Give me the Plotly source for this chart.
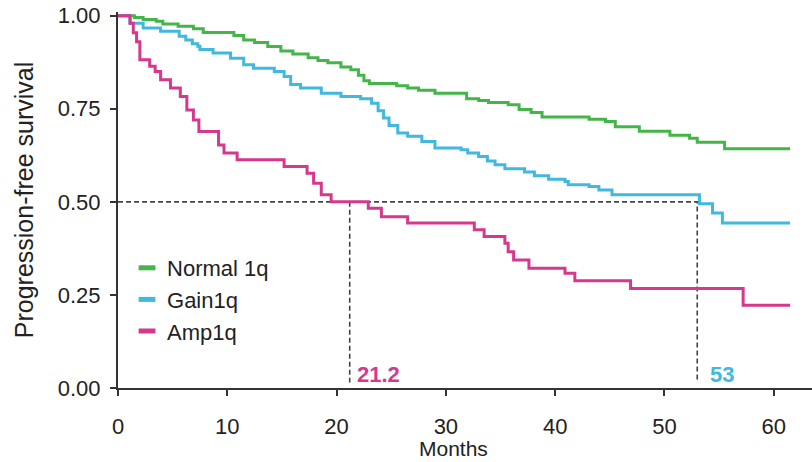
import plotly.graph_objects as go

# ---- data ----
normal_t = [0, 1.5, 2.3, 3.5, 4.1, 5.5, 6.9, 7.8, 10.6, 11.5, 12.5, 13.7, 14.9, 16.0, 17.4,
            18.3, 19.2, 20.4, 21.3, 22.0, 22.5, 23.0, 25.5, 26.5, 27.5, 29.0, 31.9, 33.0,
            33.9, 35.7, 36.7, 37.8, 38.8, 43.1, 44.6, 45.5, 47.7, 50.5, 52.3, 53.0, 55.5, 61.5]
normal_s = [1.0, 0.995, 0.99, 0.985, 0.978, 0.972, 0.965, 0.955, 0.947, 0.935, 0.928, 0.917,
            0.905, 0.897, 0.887, 0.88, 0.874, 0.862, 0.855, 0.84, 0.825, 0.818, 0.812, 0.806,
            0.80, 0.792, 0.777, 0.772, 0.767, 0.761, 0.748, 0.74, 0.728, 0.722, 0.716, 0.702,
            0.69, 0.679, 0.671, 0.66, 0.643, 0.643]

gain_t = [0, 1.1, 2.3, 3.9, 5.6, 6.2, 6.8, 7.3, 7.5, 8.7, 10.3, 11.5, 12.4, 14.3, 15.2, 15.8,
          16.7, 18.6, 20.4, 22.2, 23.2, 23.8, 24.3, 24.8, 25.6, 26.5, 27.8, 29.0, 31.4, 32.0,
          33.0, 33.8, 34.5, 35.4, 37.2, 38.1, 39.4, 40.9, 41.2, 43.1, 44.0, 45.2, 53.2, 54.4,
          55.3, 61.5]
gain_s = [1.0, 0.98, 0.967, 0.958, 0.945, 0.935, 0.925, 0.918, 0.909, 0.90, 0.886, 0.868,
          0.859, 0.85, 0.837, 0.815, 0.806, 0.792, 0.783, 0.777, 0.765, 0.745, 0.725, 0.705,
          0.685, 0.676, 0.662, 0.645, 0.64, 0.631, 0.622, 0.61, 0.60, 0.589, 0.58, 0.57,
          0.561, 0.555, 0.546, 0.541, 0.532, 0.519, 0.495, 0.47, 0.443, 0.443]

amp_t = [0, 1.1, 1.4, 1.7, 2.0, 2.9, 3.4, 3.9, 4.8, 5.7, 6.3, 6.9, 7.4, 9.2, 9.7, 10.9, 15.2,
         17.3, 17.9, 18.6, 19.5, 22.9, 24.1, 26.5, 32.6, 33.5, 35.4, 35.7, 36.2, 37.6, 40.9,
         41.8, 46.9, 57.2, 61.5]
amp_s = [1.0, 0.98, 0.954, 0.93, 0.882, 0.864, 0.85, 0.828, 0.806, 0.783, 0.747, 0.72, 0.689,
         0.653, 0.631, 0.613, 0.595, 0.577, 0.55, 0.519, 0.5, 0.483, 0.46, 0.443, 0.425, 0.407,
         0.389, 0.366, 0.344, 0.322, 0.308, 0.288, 0.267, 0.222, 0.222]

series_names = ["Normal 1q", "Gain1q", "Amp1q"]
series_colors = ["#43b549", "#41b8e0", "#d5388c"]
median_amp = 21.2
median_gain = 53
median_level = 0.5

x_ticks = [0, 10, 20, 30, 40, 50, 60]
y_ticks = [0.0, 0.25, 0.5, 0.75, 1.0]
y_tick_labels = ["0.00", "0.25", "0.50", "0.75", "1.00"]

FONT = "Arial, Liberation Sans, sans-serif"

fig = go.Figure()

# median reference lines (dashed)
fig.add_trace(go.Scatter(
    x=[0, median_gain, median_gain, None, median_amp, median_amp],
    y=[median_level, median_level, 0.015, None, median_level, 0.015],
    mode="lines", line=dict(color="#444444", width=1.6, dash="5px,3px"),
    showlegend=False, hoverinfo="skip"))

for t, s, name, col in zip([normal_t, gain_t, amp_t], [normal_s, gain_s, amp_s],
                           series_names, series_colors):
    fig.add_trace(go.Scatter(x=t, y=s, mode="lines", line=dict(color=col, width=3, shape="hv"),
                             name=name, showlegend=False))
    # legend entry: short thick segment
    fig.add_trace(go.Scatter(x=[None], y=[None], mode="markers", name=name,
                             marker=dict(symbol="line-ew", size=12,
                                         line=dict(color=col, width=5))))

fig.add_annotation(x=median_amp, y=0.035, xref="x", yref="y", text="<b>21.2</b>",
                   showarrow=False, xanchor="left", xshift=5,
                   font=dict(family=FONT, size=22, color=series_colors[2]))
fig.add_annotation(x=median_gain, y=0.035, xref="x", yref="y", text="<b>53</b>",
                   showarrow=False, xanchor="left", xshift=11,
                   font=dict(family=FONT, size=22, color=series_colors[1]))
fig.add_annotation(x=0.484, y=-0.161, xref="paper", yref="paper", text="Months",
                   showarrow=False, xanchor="center", yanchor="middle",
                   font=dict(family=FONT, size=21, color="#222222"))

fig.update_layout(
    width=812, height=462,
    margin=dict(l=118, r=0, t=12, b=74),
    paper_bgcolor="white", plot_bgcolor="white",
    font=dict(family=FONT, size=22, color="#222222"),
    legend=dict(x=0.013, y=0.375, xanchor="left", yanchor="top",
                bgcolor="rgba(0,0,0,0)", font=dict(size=22, color="#222222")),
    xaxis=dict(range=[0, 63.5], tickvals=x_ticks, showgrid=False, zeroline=False,
               showline=True, linecolor="#333333", linewidth=2, ticks="outside",
               ticklen=6, tickwidth=2, tickcolor="#333333", ticklabelstandoff=12,
               automargin=False),
    yaxis=dict(range=[0, 1.01], tickvals=y_ticks, ticktext=y_tick_labels, showgrid=False,
               zeroline=False, showline=True, linecolor="#333333", linewidth=2,
               ticks="outside", ticklen=6, tickwidth=2, tickcolor="#333333",
               ticklabelstandoff=5, automargin=False,
               title=dict(text="Progression-free survival", standoff=17,
                          font=dict(size=25))),
)

fig.write_html("out.html", config={"displayModeBar": False},
               post_script="document.body.style.margin='0';document.body.style.overflow='hidden';")
